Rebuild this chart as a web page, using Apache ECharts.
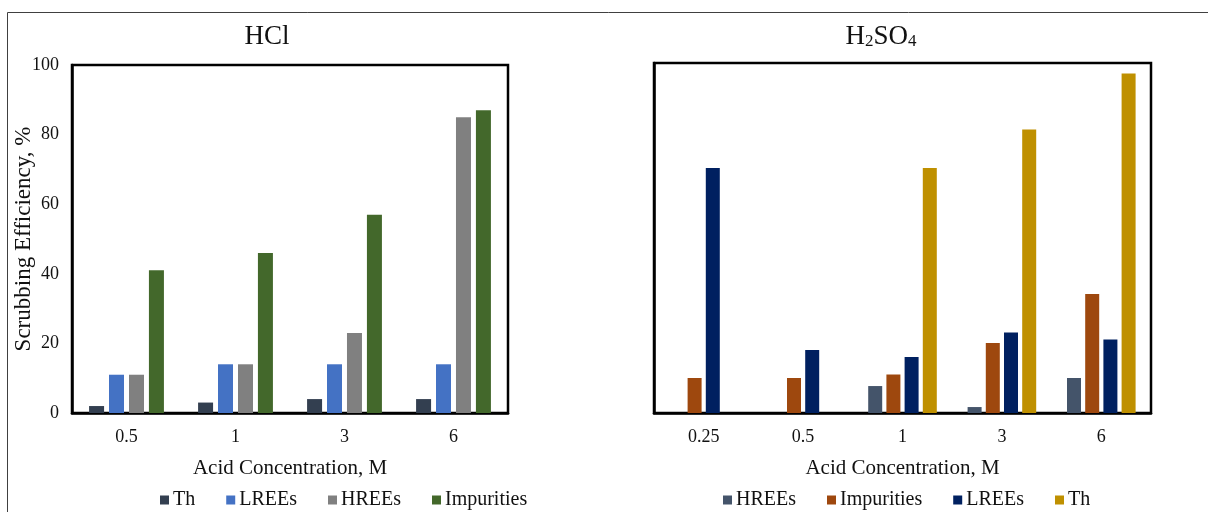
<!DOCTYPE html>
<html><head><meta charset="utf-8">
<script src="https://cdn.jsdelivr.net/npm/echarts@6/dist/echarts.min.js"></script>
<style>html,body{margin:0;padding:0;background:#fff}#c{width:1208px;height:512px}</style>
</head><body><div id="c"></div>
<script>
// HCl panel
const hclCategories = ['0.5', '1', '3', '6'];
const hclTh = [2, 3, 4, 4];
const hclLREEs = [11, 14, 14, 14];
const hclHREEs = [11, 14, 23, 85];
const hclImpurities = [41, 46, 57, 87];
// H2SO4 panel
const h2so4Categories = ['0.25', '0.5', '1', '3', '6'];
const h2so4HREEs = [null, null, 7.7, 1.7, 10];
const h2so4Impurities = [10, 10, 11, 20, 34];
const h2so4LREEs = [70, 18, 16, 23, 21];
const h2so4Th = [null, null, 70, 81, 97];
const yTicks = [0, 20, 40, 60, 80, 100];

const FONT = '"Liberation Serif", "Times New Roman", serif';
const TXT = '#111';
const chart = echarts.init(document.getElementById('c'));

function bar(name, data, color, idx, w, gap) {
  return { name, type: 'bar', data, xAxisIndex: idx, yAxisIndex: idx,
    barWidth: w, barGap: gap, itemStyle: { color }, emphasis: { disabled: true } };
}
const xAxisCommon = {
  type: 'category', axisTick: { show: false },
  axisLine: { lineStyle: { color: '#000', width: 2.5 } },
  axisLabel: { fontFamily: FONT, fontSize: 18, color: TXT, margin: 15 },
  name: 'Acid Concentration, M', nameLocation: 'middle', nameGap: 45, nameMoveOverlap: false,
  nameTextStyle: { fontFamily: FONT, fontSize: 21, color: TXT }
};
const yAxisCommon = {
  type: 'value', min: yTicks[0], max: yTicks[yTicks.length - 1], interval: 20,
  splitLine: { show: false }, axisTick: { show: false },
  axisLine: { show: true, lineStyle: { color: '#000', width: 2.5 } }
};
chart.setOption({
  animation: false,
  title: [
    { text: 'HCl', left: 262, top: 18, textAlign: 'center',
      textStyle: { fontFamily: FONT, fontSize: 27, fontWeight: 'normal', color: TXT } },
    { text: '{n|H}{s|2}{n|SO}{s|4}', left: 876, top: 13, textAlign: 'center',
      textStyle: { fontWeight: 'normal', rich: {
        n: { fontFamily: FONT, fontSize: 27, fontWeight: 'normal', color: TXT, verticalAlign: 'bottom', lineHeight: 32 },
        s: { fontFamily: FONT, fontSize: 17, fontWeight: 'normal', color: TXT, verticalAlign: 'bottom', lineHeight: 10 } } } }
  ],
  legend: [
    { data: ['Th', 'LREEs', 'HREEs', 'Impurities'], left: 155, top: 485,
      itemWidth: 9, itemHeight: 9, itemGap: 31, icon: 'rect',
      textStyle: { fontFamily: FONT, fontSize: 20, color: TXT, padding: [0, 0, 0, -1] } },
    { data: ['HREEs ', 'Impurities ', 'LREEs ', 'Th '], left: 718, top: 485,
      itemWidth: 9, itemHeight: 9, itemGap: 31, icon: 'rect',
      formatter: n => n.trim(),
      textStyle: { fontFamily: FONT, fontSize: 20, color: TXT, padding: [0, 0, 0, -1] } }
  ],
  grid: [
    { left: 72, right: 700, top: 65, bottom: 99, show: true, borderColor: '#000', borderWidth: 2.5 },
    { left: 654, right: 57, top: 63, bottom: 99, show: true, borderColor: '#000', borderWidth: 2.5 }
  ],
  xAxis: [
    Object.assign({}, xAxisCommon, { gridIndex: 0, data: hclCategories }),
    Object.assign({}, xAxisCommon, { gridIndex: 1, data: h2so4Categories })
  ],
  yAxis: [
    Object.assign({}, yAxisCommon, { gridIndex: 0,
      axisLabel: { fontFamily: FONT, fontSize: 18, color: TXT, margin: 13 },
      name: 'Scrubbing Efficiency, %', nameLocation: 'middle', nameGap: 37, nameMoveOverlap: false,
      nameTextStyle: { fontFamily: FONT, fontSize: 23, color: TXT } }),
    Object.assign({}, yAxisCommon, { gridIndex: 1, axisLabel: { show: false } })
  ],
  series: [
    bar('Th', hclTh, '#333F50', 0, 15, '33%'),
    bar('LREEs', hclLREEs, '#4472C4', 0, 15, '33%'),
    bar('HREEs', hclHREEs, '#808080', 0, 15, '33%'),
    bar('Impurities', hclImpurities, '#43682B', 0, 15, '33%'),
    bar('HREEs ', h2so4HREEs, '#44546A', 1, 14, '30%'),
    bar('Impurities ', h2so4Impurities, '#9E480E', 1, 14, '30%'),
    bar('LREEs ', h2so4LREEs, '#002060', 1, 14, '30%'),
    bar('Th ', h2so4Th, '#BF9000', 1, 14, '30%')
  ],
  graphic: [
    { type: 'rect', silent: true, z: -1,
      shape: { x: 7.5, y: 12.5, width: 1300, height: 600 },
      style: { fill: 'none', stroke: '#404040', lineWidth: 1 } }
  ]
});
</script></body></html>
